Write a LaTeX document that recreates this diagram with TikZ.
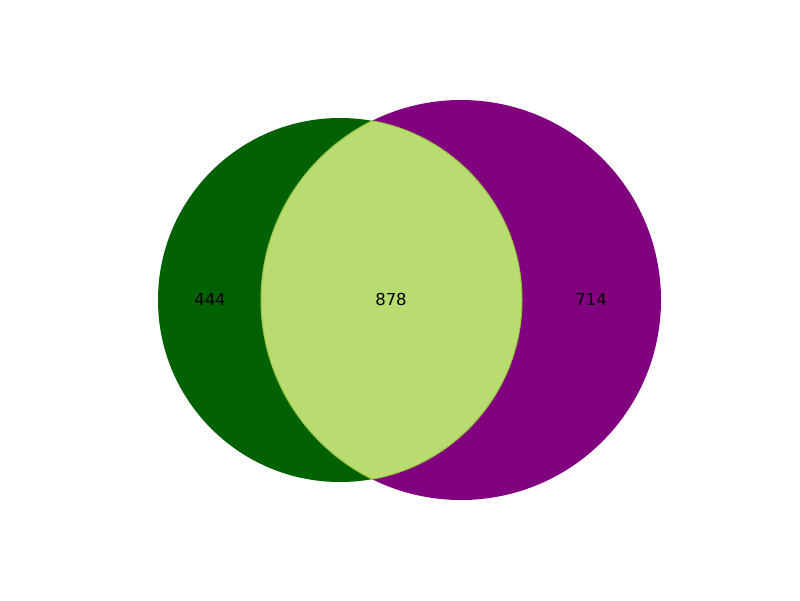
\documentclass[tikz,border=0pt]{standalone}
\usepackage{fontspec}
\setmainfont{DejaVu Sans}
\usetikzlibrary{positioning}
\definecolor{setA}{HTML}{006100}
\definecolor{setB}{HTML}{800080}
\definecolor{setAB}{HTML}{B9DC70}
\definecolor{setABedge}{HTML}{96C83C}
\tikzset {
  every node/.style={font=\fontsize{16.5}{18}\selectfont},
  count/.style={inner sep=0pt},
}
\begin{document}
\begin{tikzpicture}[x=1pt,y=-1pt]
  \useasboundingbox (0,0) rectangle (800,600);
  \fill[setA] (340,300) circle (182);
  \fill[setB] (461,300) circle (200);
  \begin{scope}
    \clip (340,300) circle (182);
    \fill[setAB] (461,300) circle (200);
  \end{scope}
  \begin{scope}
    \clip (340,300) circle (182);
    \draw[setABedge,line width=1pt] (461,300) circle (200);
  \end{scope}
  \begin{scope}
    \clip (461,300) circle (200);
    \draw[setABedge,line width=1pt] (340,300) circle (182);
  \end{scope}
  \node[count] (onlyA) at (210,299) {444};
  \node[count] (both) at (391,299) {878};
  \node[count] (onlyB) at (591,299) {714};
\end{tikzpicture}
\end{document}
